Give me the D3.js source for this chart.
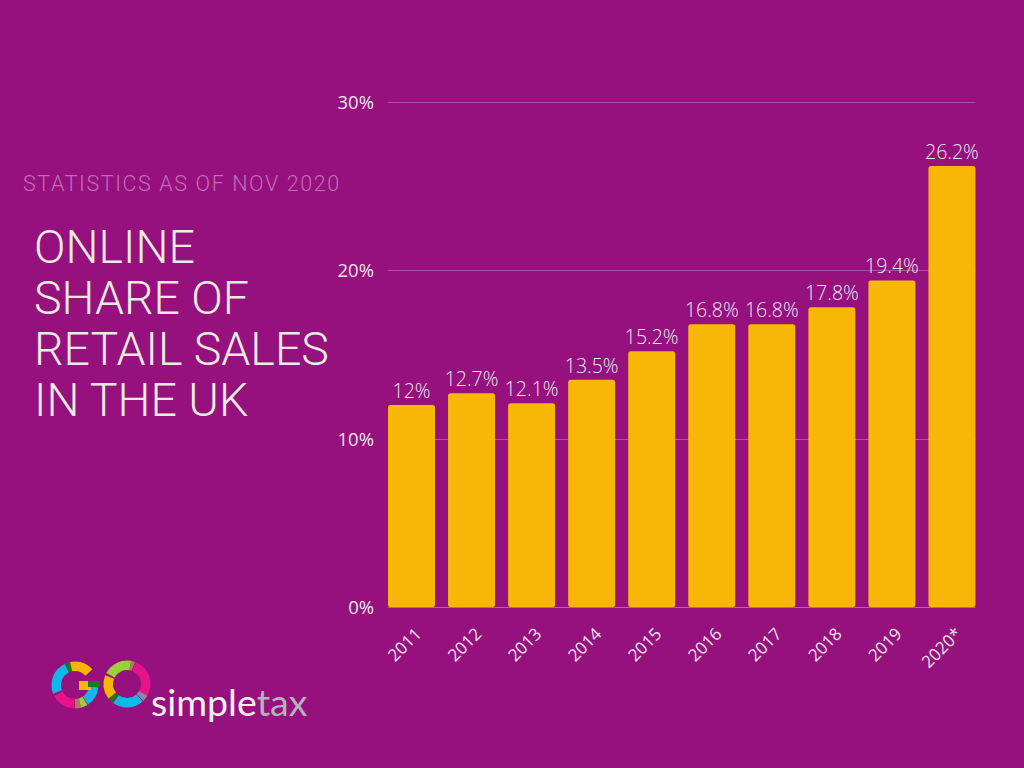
<!DOCTYPE html>
<html>
<head>
<meta charset="utf-8">
<script src="https://cdn.jsdelivr.net/npm/d3@7"></script>
<style>
  html, body { margin: 0; padding: 0; background: #96107e; }
  svg { display: block; }
</style>
</head>
<body>
<svg id="chart" width="1024" height="768"></svg>
<script>
// ---- data ----
const years = ["2011","2012","2013","2014","2015","2016","2017","2018","2019","2020*"];
const shares = [12, 12.7, 12.1, 13.5, 15.2, 16.8, 16.8, 17.8, 19.4, 26.2];
const valueLabels = ["12%","12.7%","12.1%","13.5%","15.2%","16.8%","16.8%","17.8%","19.4%","26.2%"];
const yTicks = [0, 10, 20, 30];
const titleLines = ["ONLINE", "SHARE OF", "RETAIL SALES", "IN THE UK"];
const subtitle = "STATISTICS AS OF NOV 2020";

const W = 1024, H = 768;
const BG = "#96107e", BAR = "#f8b706", TXT = "#efe6ee";
const svg = d3.select("#chart");
svg.append("rect").attr("width", W).attr("height", H).attr("fill", BG);

const x = d3.scaleBand().domain(years).range([381.5, 982]).paddingInner(0.217).paddingOuter(0.1085);
const y = d3.scaleLinear().domain([0, 30]).range([607, 102]);
const gx0 = x(years[0]), gx1 = x(years[years.length-1]) + x.bandwidth();

// gridlines
svg.append("g").selectAll("line").data(yTicks.filter(d => d > 0)).join("line")
  .attr("x1", gx0).attr("x2", gx1)
  .attr("y1", d => Math.round(y(d)) + 0.5).attr("y2", d => Math.round(y(d)) + 0.5)
  .attr("stroke", "rgba(255,255,255,0.28)").attr("stroke-width", 1);

// y axis labels
svg.append("g").selectAll("text").data(yTicks).join("text")
  .attr("x", 374).attr("y", d => y(d) + 7)
  .attr("text-anchor", "end")
  .attr("font-family", "'Open Sans', sans-serif").attr("font-size", 18.5)
  .attr("fill", TXT).text(d => d + "%");

// bars
svg.append("g").selectAll("rect").data(shares).join("rect")
  .attr("x", (d, i) => x(years[i])).attr("width", x.bandwidth())
  .attr("y", d => y(d)).attr("height", d => y(0) - y(d))
  .attr("rx", 2.5).attr("fill", BAR);

// baseline
svg.append("line").attr("x1", gx0).attr("x2", gx1)
  .attr("y1", y(0) + 0.5).attr("y2", y(0) + 0.5)
  .attr("stroke", "rgba(230,120,160,0.7)").attr("stroke-width", 1);

// value labels
svg.append("g").selectAll("text").data(shares).join("text")
  .attr("x", (d, i) => x(years[i]) + x.bandwidth() / 2)
  .attr("y", d => y(d) - 7)
  .attr("text-anchor", "middle")
  .attr("font-family", "'Open Sans', sans-serif").attr("font-weight", 300).attr("font-size", 19.5)
  .attr("fill", TXT).text((d, i) => valueLabels[i]);

// x axis labels
svg.append("g").selectAll("text").data(years).join("text")
  .attr("transform", d => `translate(${x(d) + x.bandwidth()/2 + 11},${y(0) + 28}) rotate(-45)`)
  .attr("text-anchor", "end")
  .attr("font-family", "'Open Sans', sans-serif").attr("font-size", 17)
  .attr("fill", TXT).text(d => d);

// subtitle + title
svg.append("text").attr("x", 23).attr("y", 191)
  .attr("font-family", "Roboto, sans-serif").attr("font-weight", 300).attr("font-size", 21.5)
  .attr("letter-spacing", 1.6)
  .attr("fill", "#c36cba").text(subtitle);

svg.append("g").selectAll("text").data(titleLines).join("text")
  .attr("x", 34).attr("y", (d, i) => 263 + i * 51)
  .attr("font-family", "Roboto, sans-serif").attr("font-weight", 300).attr("font-size", 46.5)
  .attr("fill", "#ecebe0").text(d => d);

// logo
const logo = svg.append("g");
const deg = Math.PI / 180;
const segG = [
  [-112, -26, "#11b7e6"], [-26, -12, "#1a7a1a"], [-12, 48, "#f7b500"],
  [96, 146, "#11b7e6"], [148, 165, "#9ad03c"], [165, 180, "#b07a5a"], [182, 242, "#e8138b"]
];
const segO = [
  [-62, 10, "#9ad03c"], [10, 20, "#b07a5a"], [22, 120, "#e8138b"], [120, 136, "#8a8aa0"],
  [138, 216, "#11b7e6"], [218, 232, "#1a7a1a"], [232, 292, "#f7b500"]
];
const arc = d3.arc().innerRadius(14).outerRadius(23.5);
logo.append("g").attr("transform", "translate(75,685)").selectAll("path").data(segG).join("path")
  .attr("d", d => arc({startAngle: d[0]*deg, endAngle: d[1]*deg})).attr("fill", d => d[2]);
logo.append("rect").attr("x", 79).attr("y", 681).attr("width", 12).attr("height", 9).attr("fill", "#f7b500");
logo.append("rect").attr("x", 88).attr("y", 681).attr("width", 12).attr("height", 6).attr("fill", "#1a7a1a");
logo.append("g").attr("transform", "translate(127,684)").selectAll("path").data(segO).join("path")
  .attr("d", d => arc({startAngle: d[0]*deg, endAngle: d[1]*deg})).attr("fill", d => d[2]);
const lt = logo.append("text").attr("x", 151).attr("y", 716)
  .attr("font-family", "Lato, sans-serif").attr("font-size", 37.5);
lt.append("tspan").attr("fill", "#f4f0f4").text("simple");
lt.append("tspan").attr("fill", "#b4b4b8").text("tax");
</script>
</body>
</html>
